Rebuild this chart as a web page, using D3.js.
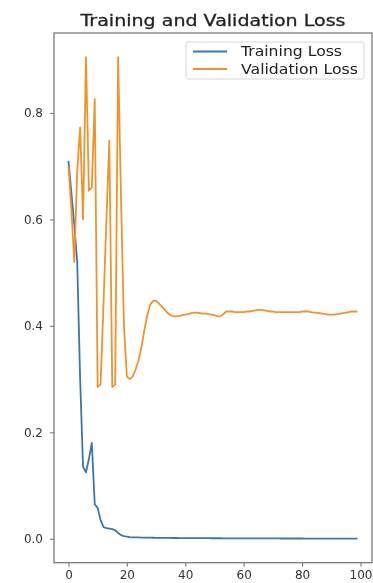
<!DOCTYPE html>
<html><head><meta charset="utf-8">
<script src="https://cdn.jsdelivr.net/npm/d3@7"></script>
<style>html,body{margin:0;padding:0;background:#fff;}svg{display:block;}</style>
</head><body>
<svg id="chart" width="373" height="583"></svg>
<script>
const title = "Training and Validation Loss";
const seriesNames = ["Training Loss", "Validation Loss"];
const xTicks = [0, 20, 40, 60, 80, 100];
const yTicks = [0.0, 0.2, 0.4, 0.6, 0.8];

const trainLoss = [
0.710,0.650,0.590,0.520,0.300,0.135,0.125,0.150,0.180,0.065,
0.058,0.035,0.022,0.020,0.019,0.018,0.016,0.011,0.007,0.005,
0.004,0.003,0.0028,0.0026,0.0025,0.0023,0.0022,0.0021,0.0020,0.0019,
0.0018,0.0018,0.0017,0.0017,0.0016,0.0016,0.0015,0.0015,0.0014,0.0014,
0.0013,0.0013,0.0013,0.0012,0.0012,0.0012,0.0011,0.0011,0.0011,0.0010,
0.0010,0.0010,0.0010,0.0009,0.0009,0.0009,0.0009,0.0008,0.0008,0.0008,
0.0008,0.0008,0.0007,0.0007,0.0007,0.0007,0.0007,0.0006,0.0006,0.0006,
0.0006,0.0006,0.0006,0.0005,0.0005,0.0005,0.0005,0.0005,0.0005,0.0005,
0.0005,0.0004,0.0004,0.0004,0.0004,0.0004,0.0004,0.0004,0.0004,0.0004,
0.0004,0.0003,0.0003,0.0003,0.0003,0.0003,0.0003,0.0003,0.0003,0.0003
];
const valLoss = [
0.700,0.620,0.520,0.690,0.773,0.600,0.905,0.654,0.660,0.826,
0.285,0.290,0.440,0.600,0.748,0.285,0.290,0.905,0.640,0.400,
0.305,0.300,0.305,0.318,0.335,0.360,0.392,0.420,0.440,0.447,
0.447,0.442,0.436,0.430,0.424,0.420,0.418,0.418,0.419,0.420,
0.421,0.422,0.424,0.425,0.425,0.424,0.423,0.423,0.422,0.421,
0.420,0.418,0.418,0.422,0.427,0.427,0.427,0.426,0.426,0.426,
0.426,0.427,0.427,0.428,0.429,0.430,0.430,0.429,0.428,0.427,
0.427,0.426,0.426,0.426,0.426,0.426,0.426,0.426,0.426,0.426,
0.427,0.427,0.427,0.426,0.425,0.425,0.424,0.423,0.422,0.421,
0.421,0.421,0.422,0.423,0.424,0.425,0.426,0.427,0.427,0.427
];
const colors = ["#3a77a8", "#f0932f"];

const svg = d3.select("#chart");
const mLeft = 54, mRight = 372, mTop = 33, mBottom = 562.7;

const n = trainLoss.length;
const xMin = 0, xMax = n - 1, xPad = (xMax - xMin) * 0.05;
const all = trainLoss.concat(valLoss);
const yMin = d3.min(all), yMax = d3.max(all), yPad = (yMax - yMin) * 0.05;

const x = d3.scaleLinear().domain([xMin - xPad, xMax + xPad]).range([mLeft, mRight]);
const y = d3.scaleLinear().domain([yMin - yPad, yMax + yPad]).range([mBottom, mTop]);

const defs = svg.append("defs");
defs.append("filter").attr("id", "soft").attr("x", "-5%").attr("y", "-5%").attr("width", "110%").attr("height", "110%")
  .append("feGaussianBlur").attr("stdDeviation", 0.55);

const root = svg.append("g").attr("filter", "url(#soft)");

const line = d3.line().x((d, i) => x(i)).y(d => y(d));
[trainLoss, valLoss].forEach((s, k) => {
  root.append("path").datum(s).attr("d", line)
    .attr("fill", "none").attr("stroke", colors[k]).attr("stroke-width", 1.8)
    .attr("stroke-linejoin", "round");
});

// frame
root.append("rect").attr("x", mLeft).attr("y", mTop).attr("width", mRight - mLeft).attr("height", mBottom - mTop)
  .attr("fill", "none").attr("stroke", "#7a7a7a").attr("stroke-width", 1.3);

const font = "DejaVu Sans, sans-serif";
const yAxis = root.append("g").attr("transform", `translate(${mLeft},0)`)
  .call(d3.axisLeft(y).tickValues(yTicks).tickFormat(d3.format(".1f")).tickSize(4).tickPadding(7));
const xAxis = root.append("g").attr("transform", `translate(0,${mBottom})`)
  .call(d3.axisBottom(x).tickValues(xTicks).tickFormat(d3.format("d")).tickSize(4).tickPadding(4));
[xAxis, yAxis].forEach(a => {
  a.select(".domain").remove();
  a.selectAll(".tick line").attr("stroke", "#7a7a7a").attr("stroke-width", 1.1);
  a.selectAll(".tick text").attr("fill", "#333").style("font-family", font).style("font-size", "12px");
});

// title
root.append("text").attr("x", (mLeft + mRight) / 2).attr("y", 26).attr("text-anchor", "middle")
  .style("font-family", font).style("font-size", "16.5px").attr("fill", "#222")
  .attr("stroke", "#222").attr("stroke-width", 0.3)
  .attr("textLength", 265).attr("lengthAdjust", "spacingAndGlyphs").text(title);

// legend
const lg = root.append("g");
lg.append("rect").attr("x", 186).attr("y", 42).attr("width", 178).attr("height", 37).attr("rx", 2)
  .attr("fill", "#fff").attr("fill-opacity", 0.8).attr("stroke", "#d6d6d6").attr("stroke-width", 1);
const legendLens = [101, 117];
seriesNames.forEach((name, k) => {
  const ly = 51.5 + k * 17.5;
  lg.append("line").attr("x1", 193).attr("x2", 227).attr("y1", ly).attr("y2", ly)
    .attr("stroke", colors[k]).attr("stroke-width", 1.8);
  lg.append("text").attr("x", 241).attr("y", ly + 4.8)
    .style("font-family", font).style("font-size", "13.5px").attr("fill", "#222")
    .attr("textLength", legendLens[k]).attr("lengthAdjust", "spacingAndGlyphs").text(name);
});
</script>
</body></html>
